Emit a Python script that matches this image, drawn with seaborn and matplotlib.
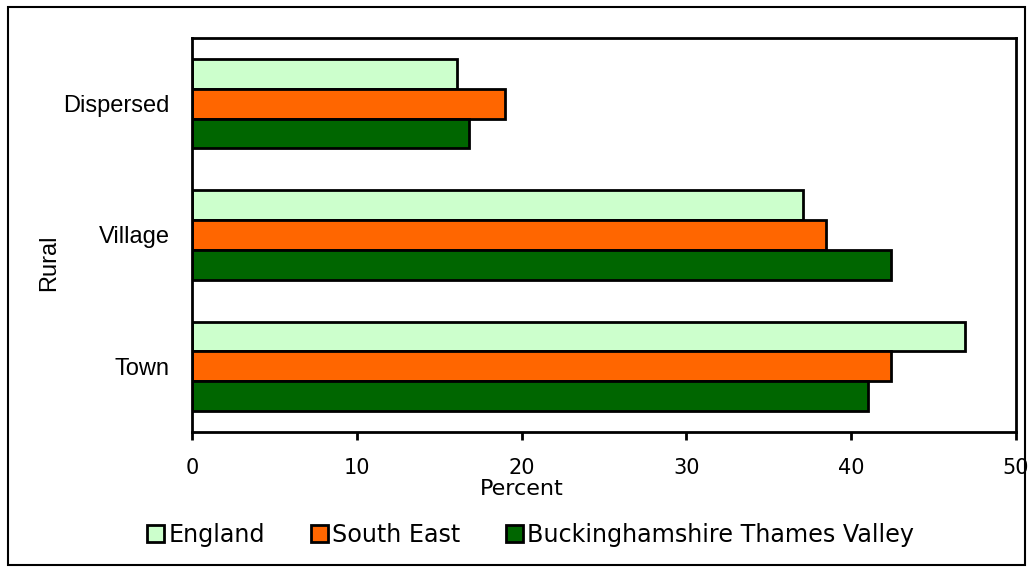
import pandas as pd
import seaborn as sns
import matplotlib.pyplot as plt
from matplotlib.patches import Rectangle

# values
categories = ["Dispersed", "Village", "Town"]
regions = ["England", "South East", "Buckinghamshire Thames Valley"]
england = [16.1, 37.1, 46.9]
south_east = [19.0, 38.5, 42.4]
bucks = [16.8, 42.4, 41.0]
colors = ["#CCFFCC", "#FF6600", "#006600"]

rows = []
for region, vals in zip(regions, [england, south_east, bucks]):
    for cat, v in zip(categories, vals):
        rows.append({"Rural": cat, "Region": region, "Percent": v})
df = pd.DataFrame(rows)

sns.set_style("ticks")
plt.rcParams["font.family"] = ["DejaVu Sans"]
plt.rcParams["text.color"] = "black"
plt.rcParams["axes.labelcolor"] = "black"
plt.rcParams["xtick.color"] = "black"
plt.rcParams["ytick.color"] = "black"

fig = plt.figure(figsize=(10.33, 5.70), dpi=100)
ax = fig.add_axes([192 / 1033, 1 - 432 / 570, (1016 - 192) / 1033, (432 - 38) / 570])

sns.barplot(
    data=df, x="Percent", y="Rural", hue="Region", order=categories,
    hue_order=regions, palette=colors, saturation=1, orient="h", width=0.68,
    edgecolor="black", linewidth=2, ax=ax, legend=False
)

ax.set_xlim(0, 50)
ax.set_xticks([0, 10, 20, 30, 40, 50])
ax.tick_params(axis="x", direction="out", length=6, width=2, labelsize=15, pad=13)
ax.tick_params(axis="y", length=0, pad=16)
for lab in ax.get_yticklabels():
    lab.set_fontfamily("Liberation Sans")
    lab.set_fontsize(17)
for s in ax.spines.values():
    s.set_linewidth(2)
    s.set_color("black")

ax.set_xlabel("Percent", fontsize=16)
ax.xaxis.set_label_coords(0.40, -0.12)
ax.set_ylabel("Rural", fontsize=17, family="Liberation Sans")
ax.yaxis.set_label_coords(-0.160, 0.43)

handles = [Rectangle((0, 0), 1, 1, facecolor=c, edgecolor="black", linewidth=2) for c in colors]
fig.legend(handles, regions, loc="center", bbox_to_anchor=(0.514, 1 - 535 / 570),
           ncol=3, frameon=False, fontsize=17.2, handlelength=0.7, handleheight=0.7,
           handletextpad=0.2, columnspacing=1.9)

fig.patches.append(Rectangle((8 / 1033, 5 / 570), 1017 / 1033, 558 / 570,
                             transform=fig.transFigure, fill=False,
                             edgecolor="black", linewidth=1.5))

fig.savefig("out.png", dpi=100)
